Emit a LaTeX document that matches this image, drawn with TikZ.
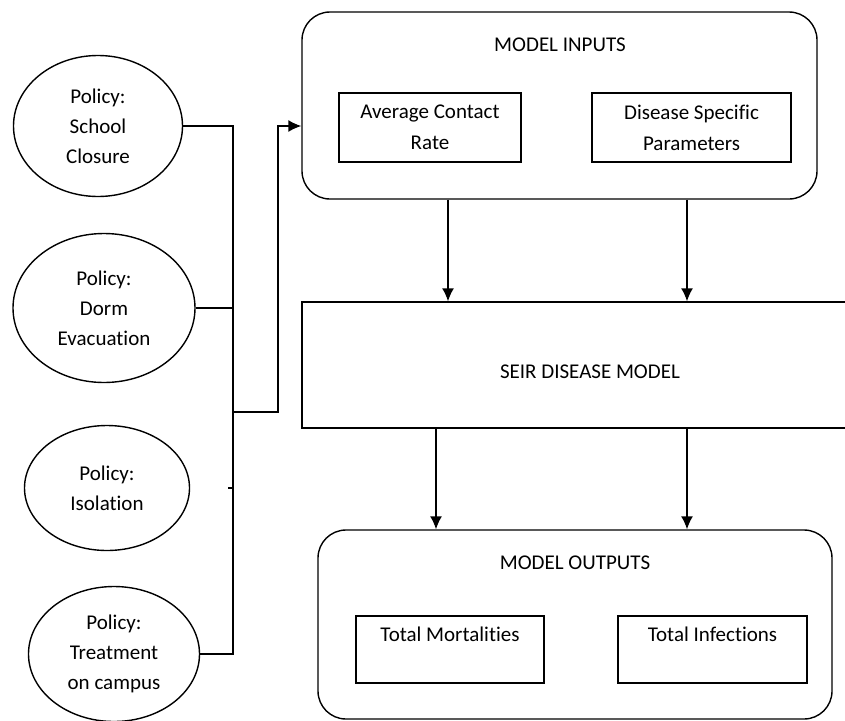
\documentclass[tikz,border=0pt]{standalone}
\usepackage{fontspec}
\setmainfont{Carlito}[Ligatures={NoCommon}]
\usetikzlibrary{shapes.geometric,arrows.meta}
\begin{document}
\begin{tikzpicture}[x=1pt,y=-1pt, line width=1.4pt,
  pol/.style={draw, ellipse, inner sep=0pt, align=center, font=\fontsize{21}{30}\selectfont},
  ibox/.style={draw, rectangle, inner sep=0pt, align=center, font=\fontsize{21}{31}\selectfont},
  rbox/.style={draw, rectangle, rounded corners=28pt, inner sep=0pt},
  lbl/.style={font=\fontsize{21}{24}\selectfont, inner sep=0pt},
  arr/.style={-{Latex[length=13pt,width=12pt]}}]
\useasboundingbox (0,0) rectangle (845,720);

% policies
\node[pol, minimum width=169pt, minimum height=141pt] (e1) at (98,126) {Policy:\\School\\Closure};
\node[pol, minimum width=182pt, minimum height=149pt] (e2) at (104,308) {Policy:\\Dorm\\Evacuation};
\node[pol, minimum width=165pt, minimum height=125pt] (e3) at (107,488) {Policy:\\Isolation};
\node[pol, minimum width=171pt, minimum height=135pt] (e4) at (114,654) {Policy:\\Treatment\\on campus};

% model inputs
\node[rbox, minimum width=515pt, minimum height=187pt] (inp) at (559.5,105.5) {};
\node[lbl] (inl) at (560,45) {MODEL INPUTS};
\node[ibox, minimum width=182pt, minimum height=69pt] (acr) at (430,127.5) {Average Contact\\Rate};
\node[ibox, minimum width=199pt, minimum height=69pt] (dsp) at (691.5,127.5) {Disease Specific\\Parameters};

% SEIR
\node[draw, rectangle, inner sep=0pt, minimum width=548pt, minimum height=126pt] (seir) at (576,365) {};
\node[lbl] (seirl) at (590,372) {SEIR DISEASE MODEL};

% model outputs
\node[rbox, minimum width=514pt, minimum height=189pt] (out) at (575,624.5) {};
\node[lbl] (outl) at (575,563) {MODEL OUTPUTS};
\node[ibox, minimum width=188pt, minimum height=67pt] (tm) at (450,649.5) {Total Mortalities\\~};
\node[ibox, minimum width=189pt, minimum height=67pt] (ti) at (712.5,649.5) {Total Infections\\~};

% bus
\coordinate (bx) at (233,0);
\coordinate (j) at (233,412);
\coordinate (k) at (278,412);
\draw (e1.east) -- (e1.east -| bx) -- (e4.east -| bx) -- (e4.east);
\draw (e2.east) -- (e2.east -| bx);
\draw (e3.east -| bx) ++(-5,0) -- (e3.east -| bx);
\draw[arr] (j) -- (k) |- (e1.east -| inp.west);

% vertical arrows
\coordinate (c1) at (448,0);
\coordinate (c2) at (687,0);
\coordinate (c3) at (436,0);
\draw[arr] (inp.south -| c1) -- (seir.north -| c1);
\draw[arr] (inp.south -| c2) -- (seir.north -| c2);
\draw[arr] (seir.south -| c3) -- (out.north -| c3);
\draw[arr] (seir.south -| c2) -- (out.north -| c2);
\end{tikzpicture}
\end{document}
